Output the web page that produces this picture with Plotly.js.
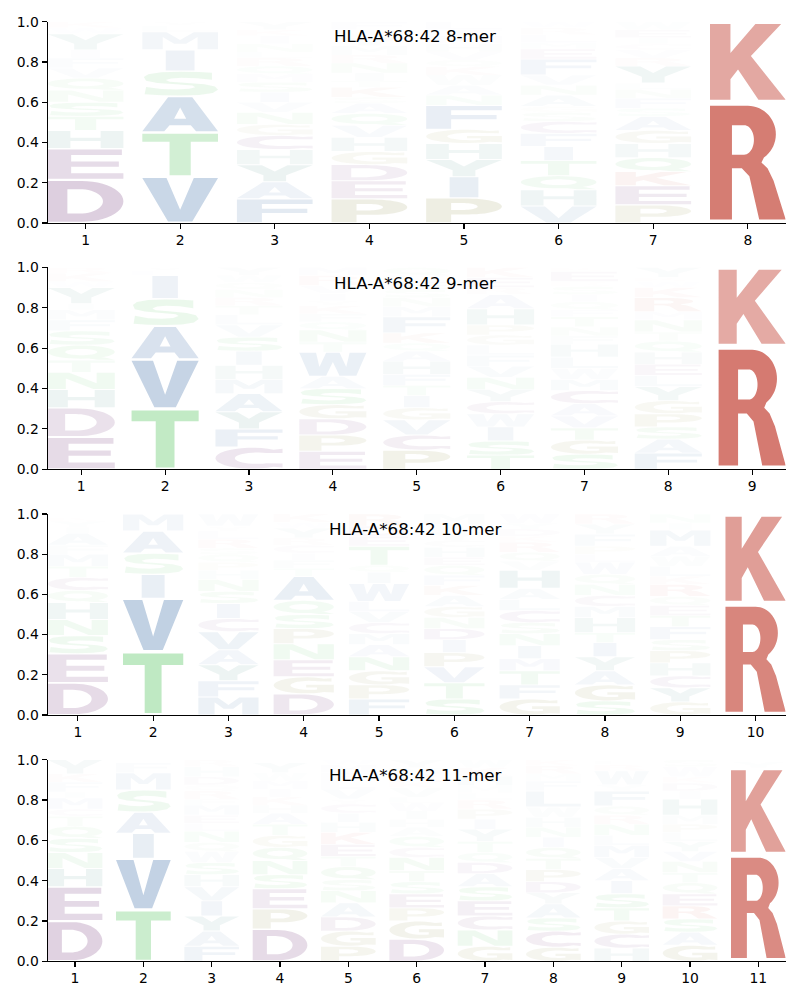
<!DOCTYPE html>
<html>
<head>
<meta charset="utf-8">
<script src="https://cdn.plot.ly/plotly-3.0.1.min.js"></script>
<style>html,body{margin:0;padding:0;background:#fff}</style>
</head>
<body>
<div id="chart" style="width:800px;height:1000px"></div>
<script>
// ---------- data: stack order is bottom to top, one string / one array per position ----------
const allele = "HLA-A*68:42";
const merLengths = [8, 9, 10, 11];

const mer8Letters = ["DEHTSNQVFIYWK","VTASIMLY","FAYHCGNVISMQRLNIKY","PEDGHVQASKTINRMYWF","PIYHGFNAWKQVHMTL","VHQTIFCSGANVFEMLRW","PEKQHGASFNLYRVCIEW","RK"];
const mer8Heights = [
 [.215,.155,.09,.07,.07,.06,.06,.05,.05,.04,.08,.03,.03],
 [.23,.22,.18,.125,.105,.09,.03,.02],
 [.12,.085,.085,.075,.07,.055,.06,.05,.05,.05,.04,.04,.04,.03,.04,.04,.03,.04],
 [.12,.09,.08,.065,.07,.06,.06,.05,.03,.05,.03,.04,.05,.04,.045,.04,.04,.04],
 [.125,.105,.085,.08,.07,.12,.05,.05,.05,.04,.035,.04,.04,.04,.03,.04],
 [.085,.08,.07,.075,.07,.065,.06,.045,.03,.055,.05,.05,.08,.05,.03,.04,.035,.03],
 [.09,.095,.07,.07,.07,.065,.07,.04,.05,.045,.03,.085,.04,.04,.03,.03,.04,.04],
 [.6,.4]
];

const mer9Letters = ["EDHNTQSFMIYWKR","TVASILY","CFYAMHISVLTRNQWY","EPDGSAWTNQFKYIVRM","PCVGITFHAQKFMNSELQ","TSIWCYNVFLGPHAREK","SGTVACMWLHFNTFQISREK","FASPGYLEHQTNMRKWKY","RK"];
const mer9Heights = [
 [.16,.145,.09,.085,.06,.075,.07,.055,.05,.03,.08,.03,.04,.03],
 [.3,.245,.165,.135,.115,.025,.015],
 [.11,.09,.085,.09,.07,.07,.07,.07,.06,.05,.045,.04,.04,.035,.035,.04],
 [.09,.08,.08,.07,.08,.06,.12,.05,.06,.04,.04,.04,.025,.035,.04,.05,.04],
 [.095,.075,.075,.06,.06,.05,.055,.065,.05,.04,.05,.08,.05,.045,.04,.04,.03,.04],
 [.07,.07,.07,.065,.06,.06,.06,.055,.055,.05,.05,.05,.08,.07,.035,.05,.05],
 [.075,.07,.06,.06,.06,.065,.055,.055,.055,.065,.04,.045,.05,.035,.04,.035,.04,.025,.05,.02],
 [.08,.07,.06,.065,.065,.07,.055,.055,.06,.055,.045,.06,.04,.07,.05,.03,.02,.05],
 [.61,.39]
];

const mer10Letters = ["DESNHQCTMFAIYKV","TVISAM","MFYAVCISNHPQSRLYW","DGENPSQATFICRYWK","FPGNAMCVLWIQTEDR","STVPIDNGAKFQEHCYWM","GFTMINSCLAHVQRKDYW","SGAYITHMCNQWLPFYR","GYCHPSFTEQRKLWAMIN","RK"];
const mer10Heights = [
 [.16,.145,.09,.08,.085,.06,.065,.055,.06,.045,.06,.03,.03,.02,.015],
 [.315,.265,.12,.105,.11,.085],
 [.09,.08,.08,.075,.09,.065,.075,.06,.06,.045,.04,.04,.03,.045,.04,.025,.06],
 [.105,.085,.085,.08,.075,.07,.07,.12,.04,.04,.035,.04,.035,.05,.03,.04],
 [.08,.07,.07,.07,.06,.055,.055,.055,.05,.09,.055,.035,.095,.05,.05,.06],
 [.08,.08,.08,.07,.065,.055,.055,.055,.055,.05,.05,.05,.04,.05,.035,.04,.04,.05],
 [.08,.07,.07,.06,.065,.06,.055,.06,.055,.055,.09,.045,.045,.05,.03,.035,.03,.045],
 [.07,.08,.07,.07,.07,.05,.075,.055,.055,.055,.05,.06,.04,.04,.06,.05,.05],
 [.065,.07,.06,.065,.06,.055,.065,.055,.05,.045,.06,.04,.05,.05,.05,.08,.035,.045],
 [.555,.445]
];

const mer11Letters = ["DEHNSQTCMIFKY","TVIASMFL","FAYIVHSWQNLEMFRQDHR","DPESNQGTAHKIMWYV","PGDANSQTEKHICYVLFMW","DGPESTNCQAHIWLVKRMY","GNCESADQTYIPRLMHKW","GCSAYDPTQINHWLFMRK","HCGTSIAVMLNRQFYWRE","GASREQTNVYLPMHIDKWS","RKY"];
const mer11Heights = [
 [.2,.17,.09,.08,.07,.06,.05,.035,.055,.03,.05,.04,.07],
 [.255,.255,.125,.105,.11,.085,.05,.015],
 [.075,.075,.075,.075,.07,.06,.06,.055,.045,.055,.04,.04,.05,.03,.04,.03,.04,.05,.035],
 [.16,.1,.1,.07,.07,.065,.06,.055,.055,.04,.04,.04,.04,.04,.05,.015],
 [.075,.075,.07,.07,.06,.055,.065,.05,.06,.06,.05,.045,.045,.025,.05,.04,.04,.04,.025],
 [.11,.09,.065,.07,.06,.055,.065,.05,.055,.045,.04,.04,.04,.03,.045,.03,.04,.03,.04],
 [.075,.08,.07,.075,.07,.065,.055,.05,.055,.06,.05,.05,.045,.035,.035,.05,.04,.04],
 [.07,.08,.065,.07,.055,.055,.06,.055,.055,.05,.05,.05,.05,.08,.05,.035,.04,.03],
 [.065,.07,.065,.065,.07,.065,.06,.055,.06,.05,.055,.045,.045,.075,.03,.07,.03,.02],
 [.08,.065,.065,.065,.06,.055,.05,.055,.05,.05,.045,.04,.045,.08,.04,.04,.03,.05,.035],
 [.53,.43,.03]
];

const letterColors = {
  R:"192,57,43", K:"192,57,43",
  D:"112,51,120", E:"112,51,120", C:"112,51,120",
  A:"43,97,159", V:"43,97,159", I:"43,97,159", L:"43,97,159", M:"43,97,159", F:"43,97,159", W:"43,97,159",
  S:"70,190,80", T:"70,190,80", N:"70,190,80", Q:"70,190,80",
  H:"20,110,100", Y:"20,110,100",
  G:"130,130,50", P:"130,130,50"
};
// below this height a letter fades faster; charged/special residues hold their colour longer
const fadeBelow = {
  A:.1, V:.1, I:.09, L:.1, M:.1, F:.09, W:.13, S:.07, T:.07, N:.07, Q:.07, Y:.09,
  H:.1, G:.07, P:.06, D:.06, E:.06, C:.07, R:.08, K:.08
};

// ---------- letter outlines in a unit box, holes wound the other way ----------
function arc(cx, cy, rx, ry, a0, a1, n) {
  const pts = [];
  const steps = n || 24;
  for (let i = 0; i <= steps; i++) {
    const a = (a0 + (a1 - a0) * i / steps) * Math.PI / 180;
    pts.push([cx + rx * Math.cos(a), cy + ry * Math.sin(a)]);
  }
  return pts;
}
const glyphs = {
  A: [[[0,0],[.29,0],[.36,.18],[.64,.18],[.71,0],[1,0],[.66,1],[.34,1]],
      [[.42,.37],[.5,.7],[.58,.37]]],
  C: [[...arc(.55,.5,.55,.5,55,305), [1,.05],[1,.25], ...arc(.62,.5,.33,.27,295,65), [1,.75],[1,.95]]],
  D: [[[0,0],[.45,0], ...arc(.45,.5,.55,.5,-90,90), [0,1]],
      [[.26,.2],[.26,.8],[.42,.8], ...arc(.42,.5,.31,.3,90,-90)]],
  E: [[[0,0],[1,0],[1,.19],[.31,.19],[.31,.41],[.94,.41],[.94,.59],[.31,.59],[.31,.81],[.98,.81],[.98,1],[0,1]]],
  F: [[[0,0],[.33,0],[.33,.41],[.93,.41],[.93,.6],[.33,.6],[.33,.81],[1,.81],[1,1],[0,1]]],
  G: [[...arc(.53,.5,.53,.5,55,305), [1,.06],[1,.54],[.54,.54],[.54,.37],[.72,.37],[.72,.24], ...arc(.6,.5,.32,.28,285,65), [.96,.74],[.96,.95]]],
  H: [[[0,0],[.3,0],[.3,.41],[.7,.41],[.7,0],[1,0],[1,1],[.7,1],[.7,.6],[.3,.6],[.3,1],[0,1]]],
  I: [[[.31,0],[.69,0],[.69,1],[.31,1]]],
  K: [[[0,0],[.27,0],[.27,.27],[.37,.4],[.64,0],[1,0],[.54,.58],[.94,1],[.6,1],[.27,.62],[.27,1],[0,1]]],
  L: [[[0,0],[1,0],[1,.19],[.33,.19],[.33,1],[0,1]]],
  M: [[[0,0],[.27,0],[.27,.72],[.42,.33],[.58,.33],[.73,.72],[.73,0],[1,0],[1,1],[.68,1],[.5,.55],[.32,1],[0,1]]],
  N: [[[0,0],[.27,0],[.27,.65],[.68,0],[1,0],[1,1],[.73,1],[.73,.35],[.32,1],[0,1]]],
  P: [[[0,0],[.33,0],[.33,.33],[.55,.33], ...arc(.55,.665,.45,.335,-90,90), [0,1]],
      [[.33,.52],[.33,.81],[.48,.81], ...arc(.48,.665,.2,.145,90,-90)]],
  Q: [arc(.5,.54,.5,.46,0,360,40),
      arc(.5,.54,.24,.22,360,0,30),
      [[.55,.12],[.75,0],[1,0],[.8,.22]]],
  R: [[[0,0],[.29,0],[.29,.45],[.42,.45],[.52,.38],[.65,0],[1,0],[.84,.34],[.76,.45],[.68,.5], ...arc(.5,.75,.37,.25,-55,90), [0,1]],
      [[.29,.57],[.29,.83],[.45,.83], ...arc(.45,.7,.13,.13,90,-90)]],
  S: [[[.92,.96],[.75,.99],[.5,1],[.25,.98],[.08,.9],[.02,.78],[.05,.62],[.2,.53],[.45,.47],[.66,.42],[.7,.35],[.62,.28],[.45,.25],[.25,.27],[.05,.36],[.03,.05],[.25,.01],[.5,0],[.75,.02],[.93,.1],[1,.24],[.96,.38],[.82,.47],[.55,.54],[.36,.58],[.31,.65],[.38,.72],[.52,.75],[.72,.73],[.92,.66]]],
  T: [[[.36,0],[.64,0],[.64,.81],[1,.81],[1,1],[0,1],[0,.81],[.36,.81]]],
  V: [[[0,1],[.32,1],[.5,.27],[.68,1],[1,1],[.66,0],[.34,0]]],
  W: [[[0,1],[.25,1],[.3,.38],[.4,1],[.6,1],[.7,.38],[.75,1],[1,1],[.85,0],[.6,0],[.5,.6],[.4,0],[.15,0]]],
  Y: [[[0,1],[.33,1],[.5,.6],[.67,1],[1,1],[.65,.37],[.65,0],[.35,0],[.35,.37]]]
};

// ---------- build ----------
const letterSets = [mer8Letters, mer9Letters, mer10Letters, mer11Letters];
const heightSets = [mer8Heights, mer9Heights, mer10Heights, mer11Heights];
const panelTopsPx = [21.7, 267.3, 514, 759.7];
const panelBottomsPx = [223, 469.3, 715, 961.3];
const titleY = [.925, .92, .925, .92];
const figW = 800, figH = 1000, leftPx = 47.7, rightPx = 785.7;
const halfWidth = 0.4, vpad = 0.03;
const tickFont = {family: "DejaVu Sans", size: 13.9, color: "#000"};

function letterAlpha(ch, h, base) {
  let a = 1.1 * h * Math.min(1, h / fadeBelow[ch]);
  if (h < 0.15) a *= 1 - 0.4 * base;
  return Math.min(1, a);
}

const traces = [];
const layout = {
  width: figW, height: figH, margin: {l:0, r:0, t:0, b:0},
  paper_bgcolor: "#fff", plot_bgcolor: "#fff", showlegend: false, annotations: []
};

merLengths.forEach((n, p) => {
  const suffix = p === 0 ? "" : String(p + 1);
  const xName = "x" + suffix, yName = "y" + suffix;
  const tickvals = [];
  for (let i = 1; i <= n; i++) tickvals.push(i);

  letterSets[p].forEach((letters, c) => {
    let base = 0;
    [...letters].forEach((ch, k) => {
      const h = heightSets[p][c][k];
      const xs = [], ys = [];
      glyphs[ch].forEach(contour => {
        contour.forEach(pt => {
          xs.push(tickvals[c] - halfWidth + 2 * halfWidth * pt[0]);
          ys.push(base + h * vpad + h * (1 - 2 * vpad) * pt[1]);
        });
        xs.push(null); ys.push(null);
      });
      traces.push({
        type: "scatter", mode: "none", x: xs, y: ys, xaxis: xName, yaxis: yName,
        fill: "toself", fillcolor: "rgba(" + letterColors[ch] + "," + letterAlpha(ch, h, base).toFixed(3) + ")",
        line: {simplify: false}, hoverinfo: "skip", name: ch
      });
      base += h;
    });
  });

  layout["xaxis" + suffix] = {
    domain: [leftPx / figW, rightPx / figW], anchor: yName,
    range: [0.6, n + 0.4], tickmode: "array", tickvals: tickvals, ticktext: tickvals.map(String),
    showgrid: false, zeroline: false, showline: true, linecolor: "#000", linewidth: 1.1,
    ticks: "outside", ticklen: 5, tickwidth: 1.1, tickcolor: "#000", tickfont: tickFont,
    ticklabelstandoff: -1
  };
  layout["yaxis" + suffix] = {
    domain: [1 - panelBottomsPx[p] / figH, 1 - panelTopsPx[p] / figH], anchor: xName,
    range: [0, 1], tickmode: "array", tickvals: [0, .2, .4, .6, .8, 1],
    ticktext: ["0.0","0.2","0.4","0.6","0.8","1.0"],
    showgrid: false, zeroline: false, showline: true, linecolor: "#000", linewidth: 1.1,
    ticks: "outside", ticklen: 5, tickwidth: 1.1, tickcolor: "#000", tickfont: tickFont
  };
  layout.annotations.push({
    xref: xName + " domain", yref: yName + " domain", x: 0.498, y: titleY[p],
    xanchor: "center", yanchor: "middle", showarrow: false,
    text: allele + " " + n + "-mer",
    font: {family: "DejaVu Sans", size: 16.67, color: "#000"}
  });
});

Plotly.newPlot("chart", traces, layout, {displayModeBar: false, staticPlot: true});
</script>
</body>
</html>
